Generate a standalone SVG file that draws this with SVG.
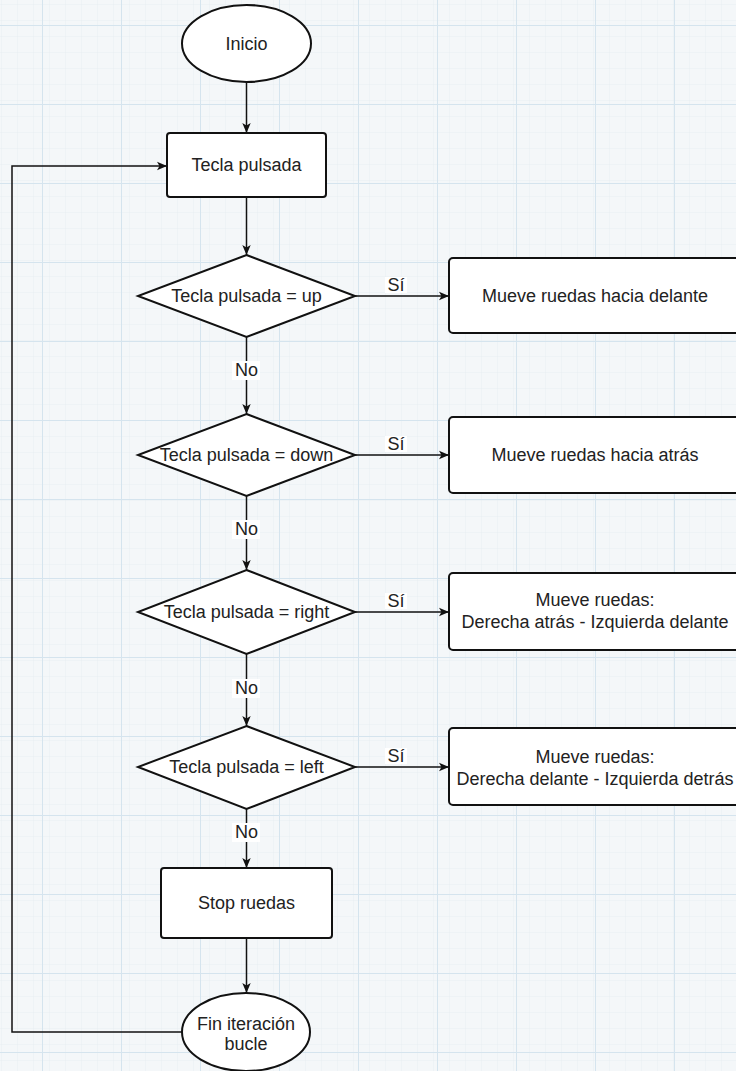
<svg xmlns="http://www.w3.org/2000/svg" width="736" height="1071" viewBox="0 0 736 1071">
  <defs>
    <pattern id="minor" x="2" y="5" width="16" height="16" patternUnits="userSpaceOnUse">
      <path d="M16 0V16M0 16H16" fill="none" stroke="#e8eef2" stroke-width="1"/>
    </pattern>
    <pattern id="major" x="42" y="25" width="79" height="79" patternUnits="userSpaceOnUse">
      <path d="M0.5 0V79M0 0.5H79" fill="none" stroke="#d5e4ee" stroke-width="1"/>
    </pattern>
    <marker id="arr" viewBox="0 0 10 10" refX="10" refY="5" markerWidth="10" markerHeight="10" markerUnits="userSpaceOnUse" orient="auto">
      <path d="M0 0.8L10 5L0 9.2L2.5 5Z" fill="#111"/>
    </marker>
    <style>
      .shape { fill: #fff; stroke: #111; stroke-width: 2; }
      .t { font-family: "Liberation Sans", Arial, sans-serif; font-size: 18px; fill: #222; text-anchor: middle; }
      .edge { fill: none; stroke: #111; stroke-width: 1.5; marker-end: url(#arr); }
      .lblbg { fill: #fff; }
    </style>
  </defs>
  <rect width="736" height="1071" fill="#f4f7f9"/>
  <rect width="736" height="1071" fill="url(#minor)"/>
  <rect width="736" height="1071" fill="url(#major)"/>

  <g id="connectors">
    <path class="edge" d="M246.5 82V133"/>
    <path class="edge" d="M246.5 197V255"/>
    <path class="edge" d="M246.5 337V414"/>
    <path class="edge" d="M246.5 496V570"/>
    <path class="edge" d="M246.5 654V726"/>
    <path class="edge" d="M246.5 809V868"/>
    <path class="edge" d="M246.5 938V993"/>
    <path class="edge" d="M182 1032H12V166H167"/>
    <path class="edge" d="M355 296H449"/>
    <path class="edge" d="M355 455H449"/>
    <path class="edge" d="M355 612H449"/>
    <path class="edge" d="M355 767H449"/>
    <g id="edge-labels">
      <rect class="lblbg" x="385" y="277" width="22" height="16"/>
      <text class="t" x="396" y="291">Sí</text>
      <rect class="lblbg" x="385" y="436" width="22" height="16"/>
      <text class="t" x="396" y="450">Sí</text>
      <rect class="lblbg" x="385" y="593" width="22" height="16"/>
      <text class="t" x="396" y="607">Sí</text>
      <rect class="lblbg" x="385" y="748" width="22" height="16"/>
      <text class="t" x="396" y="762">Sí</text>
      <rect class="lblbg" x="232" y="361" width="28" height="19"/>
      <text class="t" x="246.5" y="376">No</text>
      <rect class="lblbg" x="232" y="520" width="28" height="19"/>
      <text class="t" x="246.5" y="535">No</text>
      <rect class="lblbg" x="232" y="679" width="28" height="19"/>
      <text class="t" x="246.5" y="694">No</text>
      <rect class="lblbg" x="232" y="823" width="28" height="19"/>
      <text class="t" x="246.5" y="838">No</text>
    </g>
  </g>

  <g id="inicio">
    <ellipse class="shape" cx="246.5" cy="43.5" rx="64.5" ry="38.5"/>
    <text class="t" x="246.5" y="50">Inicio</text>
  </g>
  <g id="tecla-pulsada">
    <rect class="shape" x="167" y="133" width="159" height="64" rx="3"/>
    <text class="t" x="246.5" y="171">Tecla pulsada</text>
  </g>
  <g id="dec-up">
    <polygon class="shape" points="246.5,255 355,296 246.5,337 138,296"/>
    <text class="t" x="246.5" y="302">Tecla pulsada = up</text>
  </g>
  <g id="dec-down">
    <polygon class="shape" points="246.5,414 355,455 246.5,496 138,455"/>
    <text class="t" x="246.5" y="461">Tecla pulsada = down</text>
  </g>
  <g id="dec-right">
    <polygon class="shape" points="246.5,570 355,612 246.5,654 138,612"/>
    <text class="t" x="246.5" y="618">Tecla pulsada = right</text>
  </g>
  <g id="dec-left">
    <polygon class="shape" points="246.5,726 355,767 246.5,809 138,767"/>
    <text class="t" x="246.5" y="773">Tecla pulsada = left</text>
  </g>
  <g id="box-up">
    <rect class="shape" x="449" y="258" width="292" height="75" rx="4"/>
    <text class="t" x="595" y="302">Mueve ruedas hacia delante</text>
  </g>
  <g id="box-down">
    <rect class="shape" x="449" y="417" width="292" height="76" rx="4"/>
    <text class="t" x="595" y="461">Mueve ruedas hacia atrás</text>
  </g>
  <g id="box-right">
    <rect class="shape" x="449" y="573" width="292" height="77" rx="4"/>
    <text class="t" x="595" y="606">Mueve ruedas:</text>
    <text class="t" x="595" y="628">Derecha atrás - Izquierda delante</text>
  </g>
  <g id="box-left">
    <rect class="shape" x="449" y="728" width="292" height="77" rx="4"/>
    <text class="t" x="595" y="763">Mueve ruedas:</text>
    <text class="t" x="595" y="785">Derecha delante - Izquierda detrás</text>
  </g>
  <g id="stop-ruedas">
    <rect class="shape" x="161" y="868" width="171" height="70" rx="3"/>
    <text class="t" x="246.5" y="909">Stop ruedas</text>
  </g>
  <g id="fin">
    <ellipse class="shape" cx="246" cy="1032" rx="64" ry="39"/>
    <text class="t" x="246" y="1030">Fin iteración</text>
    <text class="t" x="246" y="1050">bucle</text>
  </g>
</svg>
